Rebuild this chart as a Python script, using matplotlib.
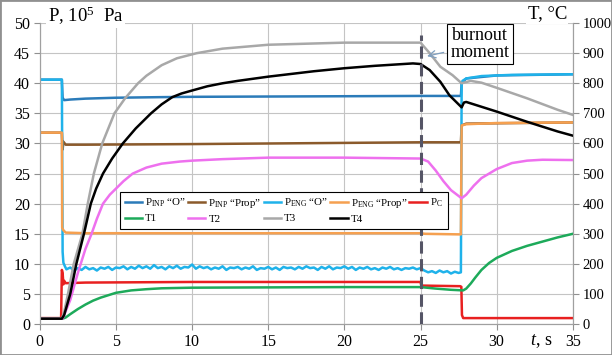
import numpy as np
import matplotlib
matplotlib.use("Agg")
import matplotlib.pyplot as plt

plt.rcParams['font.family'] = ['Liberation Serif', 'DejaVu Serif']
plt.rcParams['mathtext.fontset'] = 'custom'
plt.rcParams['mathtext.rm'] = 'Liberation Serif'
plt.rcParams['mathtext.it'] = 'Liberation Serif:italic'

# --- pressures, 10^5 Pa ---
t_inp_o = [0, 1.45, 1.5, 1.6, 2, 3, 5, 8, 10, 15, 20, 25, 27.65, 27.7, 28, 30, 35]
p_inp_o = [40.6, 40.6, 37.6, 37.2, 37.3, 37.45, 37.6, 37.7, 37.75, 37.8, 37.85, 37.9, 37.9, 40.0, 40.8, 41.3, 41.5]

t_inp_prop = [0, 1.45, 1.5, 1.55, 1.7, 3, 10, 20, 25, 27.65, 27.7, 28, 35]
p_inp_prop = [31.8, 31.8, 29.0, 30.3, 29.8, 29.8, 29.9, 30.1, 30.2, 30.2, 33.0, 33.3, 33.5]

# engine "O": start, noisy run (step 0.25 s from 1.75 s), after burnout, after shutdown
t_eng_o_start = [0, 1.45, 1.5, 1.55, 1.65]
p_eng_o_start = [40.6, 40.6, 12.0, 10.2, 9.6]
eng_o_run = [9.1, 9.4, 8.9, 9.3, 9.0, 9.5, 9.1, 9.3, 8.9, 9.4,
             9.2, 9.5, 9.0, 9.4, 9.3, 9.6, 9.1, 9.5, 9.2, 9.7,
             9.3, 9.6, 9.2, 9.8, 9.3, 9.5, 9.1, 9.6, 9.3, 9.7,
             9.2, 9.5, 9.4, 9.9, 9.2, 9.6, 9.3, 9.5, 9.1, 9.4,
             9.2, 9.6, 9.0, 9.4, 9.3, 9.5, 9.1, 9.4, 9.2, 9.6,
             9.0, 9.3, 9.2, 9.5, 9.1, 9.4, 9.0, 9.5, 9.3, 9.4,
             9.1, 9.5, 9.2, 9.6, 9.3, 9.4, 9.0, 9.5, 9.2, 9.6,
             9.1, 9.4, 9.3, 9.6, 9.2, 9.5, 9.0, 9.4, 9.2, 9.5,
             9.1, 9.3, 9.0, 9.4, 9.2, 9.5, 9.1, 9.3, 9.0, 9.3,
             9.2, 9.4, 9.1, 9.3]
eng_o_burn = [8.9, 8.6, 8.8, 8.5, 8.9, 8.6, 8.8, 8.4, 8.7, 8.5]
t_eng_o_end = [27.65, 27.7, 27.75, 28, 29, 31, 35]
p_eng_o_end = [8.6, 39.8, 40.4, 40.8, 41.2, 41.4, 41.5]

t_eng_prop = [0, 1.45, 1.47, 1.55, 1.7, 3, 25, 25.3, 27.65, 27.7, 28, 30, 35]
p_eng_prop = [31.8, 31.8, 16.0, 15.6, 15.2, 15.1, 15.1, 15.0, 14.9, 33.0, 33.2, 33.4, 33.5]

t_pc = [0, 1.4, 1.45, 1.5, 1.55, 1.6, 1.7, 3, 10, 25, 25.05, 27.6, 27.68, 27.72, 27.8, 35]
p_pc = [1.0, 1.0, 9.0, 8.5, 6.6, 7.2, 6.8, 6.9, 7.0, 7.0, 6.4, 6.3, 6.2, 1.5, 1.0, 1.0]

# --- temperatures, deg C ---
t_t1 = [0, 1.5, 1.7, 2, 2.5, 3, 3.5, 4, 5, 6, 7, 8, 10, 15, 20, 25, 26, 27, 27.8,
        28, 28.3, 28.6, 29, 29.5, 30, 31, 32, 33, 34, 35]
T1 = [18, 18, 22, 33, 50, 65, 78, 88, 104, 112, 116, 119, 121, 122, 123, 123, 118, 114, 112,
      118, 135, 155, 180, 203, 220, 243, 260, 274, 288, 300]

t_t2 = [0, 1.5, 2.0, 2.5, 3.0, 3.4, 3.75, 4.15, 4.6, 5, 5.5, 6.1, 7, 8, 9.2, 10, 12, 15, 20, 25,
        25.5, 26, 26.5, 27, 27.7, 28, 28.5, 29, 30, 31, 32, 33, 35]
T2 = [18, 18, 80, 170, 250, 300, 350, 400, 430, 450, 475, 500, 520, 533, 540, 543, 548, 553, 553, 550,
      540, 510, 475, 445, 418, 430, 460, 485, 515, 535, 543, 546, 545]

t_t3 = [0, 1.45, 1.6, 1.85, 2.23, 2.8, 3.15, 3.55, 4.1, 4.9, 5.6, 6.45, 7, 8, 9, 10.3, 12, 15, 20, 25,
        25.6, 26.3, 27.1, 27.7, 28.3, 29, 30, 32, 34, 35]
T3 = [18, 18, 40, 100, 200, 300, 400, 500, 600, 700, 750, 800, 825, 860, 883, 900, 915, 928, 935, 935,
      900, 855, 827, 800, 808, 802, 785, 750, 712, 695]

t_t4 = [0, 1.45, 1.6, 2.0, 2.4, 2.9, 3.35, 3.7, 4.15, 4.75, 5.45, 6.3, 7.3, 8, 8.7, 9.3, 10, 11, 12, 13,
        15, 18, 20, 22, 24.5, 25, 25.6, 26.3, 26.9, 27.7, 27.85, 28, 28.5, 30, 32, 34, 35]
T4 = [18, 18, 30, 100, 200, 300, 400, 450, 500, 550, 600, 650, 700, 730, 754, 766, 776, 790, 800, 808,
      822, 840, 850, 858, 866, 864, 844, 805, 760, 720, 736, 738, 730, 706, 672, 640, 626]

burnout_t = 25

c_inp_o, c_inp_prop = '#2b7bb9', '#8b5a2b'
c_eng_o, c_eng_prop = '#1fb2ea', '#f5a050'
c_pc = '#e82020'
c_t1, c_t2, c_t3, c_t4 = '#1daa5a', '#ee70ee', '#a8a8a8', 'black'

t_run = 1.75 + 0.25 * np.arange(len(eng_o_run))
t_burn = 25.25 + 0.25 * np.arange(len(eng_o_burn))
t_eng_o = np.concatenate([t_eng_o_start, t_run, t_burn, t_eng_o_end])
p_eng_o = np.concatenate([p_eng_o_start, eng_o_run, eng_o_burn, p_eng_o_end])

fig, ax = plt.subplots(figsize=(6.12, 3.55), dpi=100)
fig.subplots_adjust(left=0.065, right=0.936, bottom=0.087, top=0.935)
ax2 = ax.twinx()

lw = 1.8
h = []
h += ax.plot(t_inp_o, p_inp_o, color=c_inp_o, lw=lw, label=r'P$_{\rm INP}$ “O”')
h += ax.plot(t_inp_prop, p_inp_prop, color=c_inp_prop, lw=lw, label=r'P$_{\rm INP}$ “Prop”')
h += ax.plot(t_eng_o, p_eng_o, color=c_eng_o, lw=lw, label=r'P$_{\rm ENG}$ “O”')
h += ax.plot(t_eng_prop, p_eng_prop, color=c_eng_prop, lw=lw, label=r'P$_{\rm ENG}$ “Prop”')
h += ax.plot(t_pc, p_pc, color=c_pc, lw=lw, label=r'P$_{\rm C}$')
g = []
g += ax2.plot(t_t1, T1, color=c_t1, lw=lw, label='T1')
g += ax2.plot(t_t2, T2, color=c_t2, lw=lw, label='T2')
g += ax2.plot(t_t3, T3, color=c_t3, lw=lw, label='T3')
g += ax2.plot(t_t4, T4, color=c_t4, lw=lw, label='T4')

ax2.vlines(burnout_t, 0, 960, colors='#555566', lw=2.2, linestyles=(0, (4, 1.8)), zorder=5)

ax.set_xlim(0, 35)
ax.set_ylim(0, 50)
ax2.set_ylim(0, 1000)
ax.set_xticks(np.arange(0, 36, 5))
ax.set_yticks(np.arange(0, 51, 5))
ax2.set_yticks(np.arange(0, 1001, 100))
ax.grid(True, color='#c4c4c4', lw=0.8)
for a in (ax, ax2):
    a.tick_params(direction='out', length=4, color='#909090', labelsize=11.5, pad=3)
    for s in a.spines.values():
        s.set_color('#a0a0a0')
        s.set_linewidth(0.8)
    a.spines['top'].set_visible(False)
ax2.tick_params(labelsize=10.5)

ax.text(0.015, 1.025, r'P, 10$^5$  Pa', transform=ax.transAxes, fontsize=13.5, va='center', ha='left',
        bbox=dict(facecolor='white', edgecolor='none', pad=1))
ax.text(0.989, 1.03, 'T, °C', transform=ax.transAxes, fontsize=13.5, va='center', ha='right',
        bbox=dict(facecolor='white', edgecolor='none', pad=1))
ax.text(0.94, -0.056, r'$\it{t}$, s', transform=ax.transAxes, fontsize=13, va='center', ha='center',
        bbox=dict(facecolor='white', edgecolor='none', pad=1))

ax2.annotate('burnout\nmoment', xy=(25.25, 888), xytext=(28.9, 930), fontsize=13, ha='center', va='center',
             linespacing=0.95,
             bbox=dict(boxstyle='square,pad=0.2', facecolor='white', edgecolor='black', lw=0.8),
             arrowprops=dict(arrowstyle='->', color='#7f9fc0', lw=0.9), zorder=6)

order = [h[0], g[0], h[1], g[1], h[2], g[2], h[3], g[3], h[4]]
leg = ax2.legend(handles=order, ncol=5, loc='upper left', bbox_to_anchor=(0.15, 0.4385),
                 fontsize=7.8, frameon=True, fancybox=False, edgecolor='black', framealpha=1,
                 handlelength=1.6, handletextpad=0.3, columnspacing=0.2, borderpad=0.45, labelspacing=0.4,
                 borderaxespad=0)
leg.get_frame().set_linewidth(0.8)
leg.set_zorder(10)

fig.add_artist(plt.Rectangle((0, 0), 1, 1, transform=fig.transFigure, fill=False, edgecolor='#909090', lw=2))

fig.savefig('out.png', dpi=100)
